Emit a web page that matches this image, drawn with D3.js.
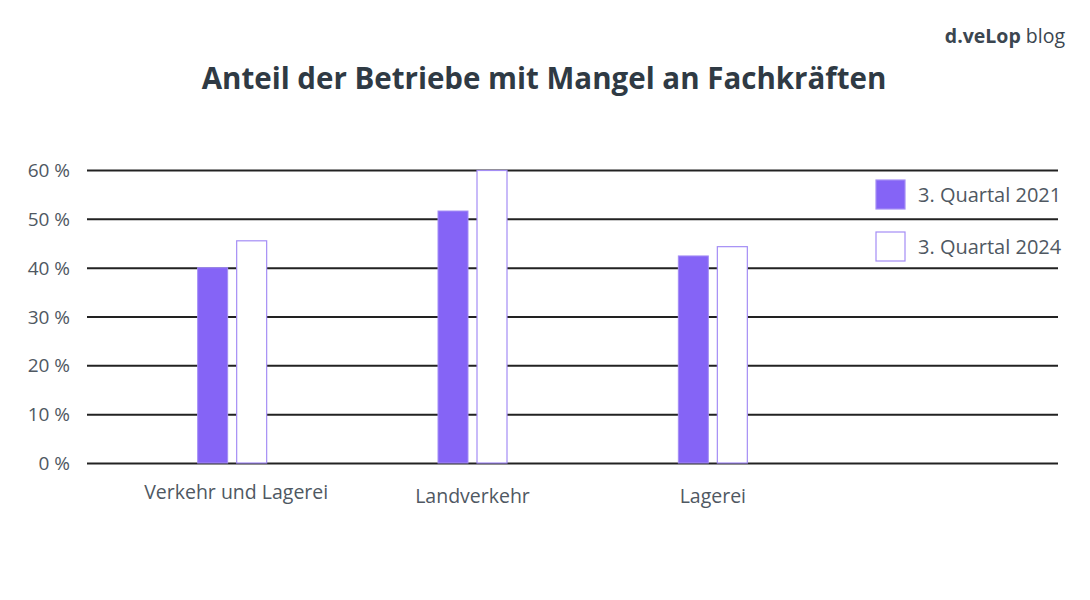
<!DOCTYPE html>
<html><head><meta charset="utf-8">
<script src="https://cdn.jsdelivr.net/npm/d3@7"></script>
<style>
body{margin:0;background:#fff;}
text{font-family:"Open Sans","Noto Sans",sans-serif;}
</style></head><body>
<svg id="c" width="1090" height="600"></svg>
<script>
const categories = ["Verkehr und Lagerei", "Landverkehr", "Lagerei"];
const seriesNames = ["3. Quartal 2021", "3. Quartal 2024"];
const values2021 = [40.0, 51.6, 42.4];
const values2024 = [45.5, 59.9, 44.3];
const yTicks = [0, 10, 20, 30, 40, 50, 60];
const tickLabels = ["0 %", "10 %", "20 %", "30 %", "40 %", "50 %", "60 %"];

const svg = d3.select("#c");
const textCol = "#4f5862";
const purple = "#8564f6";
const lightPurple = "#a48df5";

svg.append("text").attr("x", 544).attr("y", 89).attr("text-anchor", "middle")
  .attr("font-size", 29.5).attr("font-weight", 700).attr("fill", "#2f3a44")
  .text("Anteil der Betriebe mit Mangel an Fachkräften");

const logo = svg.append("text").attr("x", 1065).attr("y", 43).attr("text-anchor", "end").attr("fill", "#3b4650").attr("font-size", 19.5);
logo.append("tspan").attr("font-weight", 700).text("d.veLop ");
logo.append("tspan").attr("font-weight", 400).text("blog");

const y = d3.scaleLinear().domain([0, 60]).range([463, 170]);
const x = d3.scaleBand().domain(categories).range([112, 833]);
const xs = d3.scaleBand().domain(seriesNames).range([0, 69]).paddingInner(0.231);

// gridlines
const yAxis = d3.axisLeft(y).tickValues(yTicks).tickSize(-971).tickFormat((d, i) => tickLabels[i]);
const ga = svg.append("g").attr("transform", "translate(1058,0)").call(yAxis);
ga.select(".domain").remove();
ga.selectAll(".tick line").attr("stroke", "#222").attr("stroke-width", 2).attr("x1", -971).attr("x2", 0);
ga.selectAll(".tick text").remove();
yTicks.forEach((t, i) => {
  svg.append("text").attr("x", 70).attr("y", y(t) + 7).attr("text-anchor", "end")
    .attr("font-size", 19).attr("fill", textCol).text(tickLabels[i]);
});

const groups = svg.append("g").selectAll("g").data(categories).join("g")
  .attr("transform", d => `translate(${x(d) + x.bandwidth()/2 - 34.5},0)`);
groups.append("rect").attr("x", xs(seriesNames[0])).attr("width", xs.bandwidth())
  .attr("y", (d, i) => y(values2021[i])).attr("height", (d, i) => y(0) - y(values2021[i]))
  .attr("fill", purple).attr("stroke", lightPurple).attr("stroke-width", 1);
groups.append("rect").attr("x", xs(seriesNames[1])).attr("width", xs.bandwidth())
  .attr("y", (d, i) => y(values2024[i])).attr("height", (d, i) => y(0) - y(values2024[i]))
  .attr("fill", "#fff").attr("stroke", lightPurple).attr("stroke-width", 1.2);

// x labels
const xAxis = d3.axisBottom(x).tickSize(0);
const gx = svg.append("g").attr("transform", "translate(0,483)").call(xAxis);
gx.select(".domain").remove();
gx.selectAll(".tick text").attr("font-size", 19.5).attr("fill", textCol)
  .attr("font-family", "'Open Sans','Noto Sans',sans-serif").attr("dy", "1em")
  .attr("y", (d, i) => i === 0 ? -4 : 0).attr("x", (d, i) => i === 0 ? 4 : 0);

// legend
const leg = svg.append("g");
seriesNames.forEach((s, i) => {
  const yy = 180 + i * 52;
  leg.append("rect").attr("x", 876).attr("y", yy).attr("width", 29).attr("height", 29)
    .attr("fill", i === 0 ? purple : "#fff").attr("stroke", lightPurple).attr("stroke-width", 1.2);
  leg.append("text").attr("x", 918).attr("y", yy + 22).attr("font-size", 20).attr("fill", textCol).text(s);
});
</script></body></html>
